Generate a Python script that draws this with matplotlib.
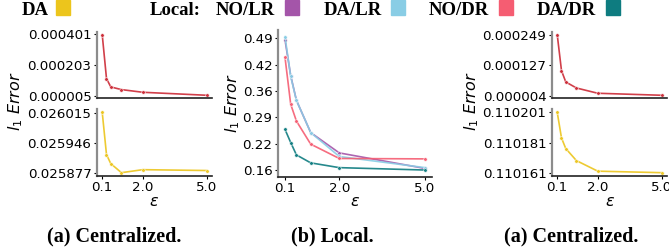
import matplotlib.pyplot as plt
import matplotlib.patches as patches
import numpy as np

eps = [0.1, 0.3, 0.5, 1.0, 2.0, 5.0]

# centralized (left)
cen1_no = [0.000395, 0.000117, 0.000064, 0.000047, 0.000030, 0.000011]
cen1_da = [0.026017, 0.025919, 0.025898, 0.025877, 0.025884, 0.025882]
cen1_no_ticks = ["0.000005", "0.000203", "0.000401"]
cen1_da_ticks = ["0.025877", "0.025946", "0.026015"]

# centralized (right)
cen2_no = [0.000249, 0.000106, 0.000061, 0.000037, 0.000016, 0.000008]
cen2_da = [0.110201, 0.110184, 0.110177, 0.110169, 0.110162, 0.110161]
cen2_no_ticks = ["0.000004", "0.000127", "0.000249"]
cen2_da_ticks = ["0.110161", "0.110181", "0.110201"]

# local
local_no_lr = [0.486, 0.396, 0.334, 0.253, 0.202, 0.163]
local_da_lr = [0.494, 0.394, 0.334, 0.253, 0.193, 0.165]
local_no_dr = [0.442, 0.324, 0.282, 0.224, 0.188, 0.187]
local_da_dr = [0.261, 0.228, 0.197, 0.177, 0.165, 0.159]
local_ticks = ["0.16", "0.22", "0.29", "0.36", "0.42", "0.49"]

c_red = "#cc2a36"
c_yellow = "#ecc51c"
c_purple = "#a455a9"
c_blue = "#89cde5"
c_pink = "#f55d72"
c_teal = "#0e7c80"

W, H = 669, 248
fig = plt.figure(figsize=(W / 100, H / 100), dpi=100)


def box(x0, y0, x1, y1):
    # pixel box (from top-left) -> figure axes
    return fig.add_axes([x0 / W, 1 - y1 / H, (x1 - x0) / W, (y1 - y0) / H])


def style(ax, xticks=True):
    for s in ["top", "right"]:
        ax.spines[s].set_visible(False)
    ax.spines["left"].set_color("#8c8c8c")
    ax.spines["left"].set_linewidth(1.6)
    ax.spines["bottom"].set_color("#222222")
    ax.spines["bottom"].set_linewidth(1.2)
    ax.tick_params(labelsize=9.6, length=2.5, width=0.8, pad=1.5)
    ax.set_xticks([0.1, 2.0, 5.0])
    if xticks:
        ax.set_xticklabels(["0.1", "2.0", "5.0"])
    else:
        ax.set_xticklabels([])
        ax.tick_params(axis="x", length=0)


def line(ax, y, c):
    ax.plot(eps, y, color=c, lw=1.2, marker="o", ms=2.6, mec="white", mew=0.4, alpha=0.9)


def ticks(ax, labels):
    ax.set_yticks([float(t) for t in labels])
    ax.set_yticklabels(labels)


# left centralized
a1 = box(97, 31.7, 212, 98.3)
line(a1, cen1_no, c_red)
ticks(a1, cen1_no_ticks)
style(a1, xticks=False)
a2 = box(97, 109.3, 212, 175.7)
line(a2, cen1_da, c_yellow)
ticks(a2, cen1_da_ticks)
style(a2)

# local
b = box(278, 30, 432, 176.7)
line(b, local_no_lr, c_purple)
line(b, local_da_lr, c_blue)
line(b, local_no_dr, c_pink)
line(b, local_da_dr, c_teal)
b.set_yticks(np.linspace(0.1585, 0.49, 6))
b.set_yticklabels(local_ticks)
style(b)

# right centralized
c1 = box(552, 31.7, 667, 98.3)
line(c1, cen2_no, c_red)
ticks(c1, cen2_no_ticks)
style(c1, xticks=False)
c2 = box(552, 109.3, 667, 175.7)
line(c2, cen2_da, c_yellow)
ticks(c2, cen2_da_ticks)
style(c2)

# axis labels
for x, y in [(16, 101), (233, 103), (472, 101)]:
    fig.text(x / W, 1 - y / H, r"$l_1\ Error$", rotation=90, ha="center", va="center", fontsize=11.5)
for x in [154, 355, 610]:
    fig.text(x / W, 1 - 201 / H, r"$\varepsilon$", ha="center", va="center", fontsize=11.5)

# captions
serif = "Liberation Serif"
for x, t in [(114.5, "(a) Centralized."), (332, "(b) Local."), (571, "(a) Centralized.")]:
    fig.text(x / W, 1 - 236 / H, t, ha="center", va="center", fontsize=14.5,
             family=serif, weight="bold")

# legend row
def key(x, t):
    fig.text(x / W, 1 - 15 / H, t, ha="left", va="baseline", fontsize=13.5,
             family=serif, weight="bold")

def sq(x, c):
    fig.patches.append(patches.Rectangle((x / W, 1 - 15 / H), 14 / W, 15 / H,
                                         transform=fig.transFigure, color=c))

key(22, "DA")
sq(56, c_yellow)
key(150, "Local:")
key(216, "NO/LR")
sq(285, c_purple)
key(324, "DA/LR")
sq(391, c_blue)
key(429, "NO/DR")
sq(499, c_pink)
key(537, "DA/DR")
sq(606, c_teal)

fig.savefig("out.png", dpi=100)
